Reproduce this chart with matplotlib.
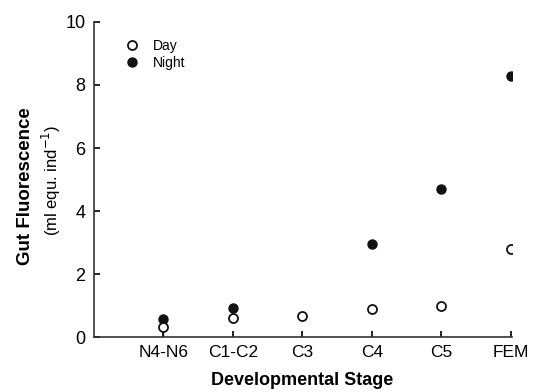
import matplotlib
matplotlib.use("Agg")
import matplotlib.pyplot as plt
from matplotlib.lines import Line2D

plt.rcParams['font.family'] = ['Liberation Sans', 'DejaVu Sans']

# stages and gut fluorescence values
stages = ["N4-N6", "C1-C2", "C3", "C4", "C5", "FEM"]
day = [0.33, 0.60, 0.68, 0.90, 1.00, 2.80]
night_stages = ["N4-N6", "C1-C2", "C4", "C5", "FEM"]
night = [0.58, 0.92, 2.95, 4.70, 8.30]
day_err_low = [0.28, 0, 0, 0, 0, 0]

x_of = {s: i + 1 for i, s in enumerate(stages)}

fig = plt.figure(figsize=(5.33, 3.92), dpi=100)
ax = fig.add_axes([0.176, 0.140, 0.785, 0.804])

ax.plot([x_of[s] for s in night_stages], night, 'o', color='#111111',
        markersize=6.5, zorder=3)
ax.errorbar([x_of[s] for s in stages], day,
            yerr=[day_err_low, [0] * len(day)], fmt='o', mfc='white',
            mec='#111111', ecolor='#111111', mew=1.3, markersize=6.5,
            elinewidth=1.0, capsize=0, zorder=4)

ax.set_xlim(0, 6.02)
ax.set_ylim(0, 10)
ax.set_xticks([x_of[s] for s in stages])
ax.set_xticklabels(stages, fontsize=12.5)
ax.set_yticks([0, 2, 4, 6, 8, 10])
ax.tick_params(axis='y', labelsize=13, length=4, width=1.2, direction='in', pad=6)
ax.tick_params(axis='x', length=4, width=1.2, direction='in', pad=6)
for s in ['top', 'right']:
    ax.spines[s].set_visible(False)
for s in ['left', 'bottom']:
    ax.spines[s].set_color('#333333')
    ax.spines[s].set_linewidth(1.2)

handles = [
    Line2D([], [], ls='none', marker='o', mfc='white', mec='#111111',
           mew=1.3, markersize=6.5),
    Line2D([], [], ls='none', marker='o', color='#111111', markersize=6.5),
]
ax.legend(handles, ['Day', 'Night'], loc='upper left',
          bbox_to_anchor=(0.046, 0.985), frameon=False, fontsize=10,
          handletextpad=1.0, labelspacing=0.2, handlelength=1.0)

fig.text(0.567, 0.03, "Developmental Stage", ha='center', va='center',
         fontsize=13, fontweight='bold')
fig.text(0.047, 0.525, "Gut Fluorescence", rotation=90, ha='center',
         va='center', fontsize=13.5, fontweight='bold')
fig.text(0.097, 0.54, "(ml equ. ind$^{-1}$)", rotation=90, ha='center',
         va='center', fontsize=12)

fig.savefig("out.png", dpi=100)
